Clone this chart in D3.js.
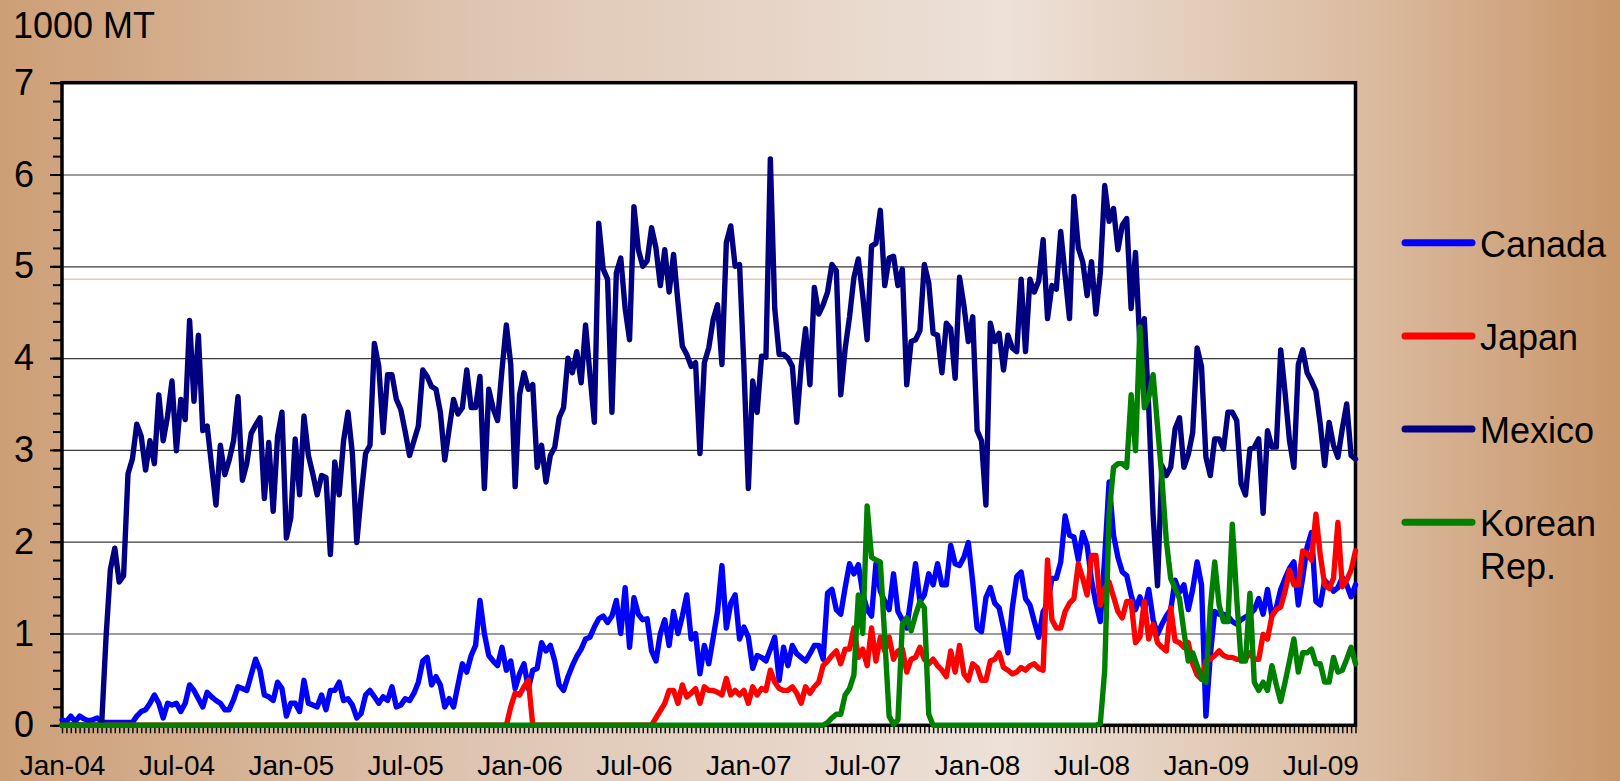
<!DOCTYPE html>
<html>
<head>
<meta charset="utf-8">
<script src="https://cdn.jsdelivr.net/npm/d3@7/dist/d3.min.js"></script>
<style>
  body { margin: 0; overflow: hidden; }
  text { font-family: "Liberation Sans", Arial, sans-serif; fill: #000; }
</style>
</head>
<body>
<svg width="1620" height="781"></svg>
<script>
// weekly imports, 1000 MT, first week of Jan-04 onwards (295 weeks)
var tickLabels = ["Jan-04","Jul-04","Jan-05","Jul-05","Jan-06","Jul-06","Jan-07","Jul-07","Jan-08","Jul-08","Jan-09","Jul-09"];
var tickWeeks = [0, 26, 52, 78, 104, 130, 156, 182, 208, 234, 260, 286];
var seriesNames = ["Canada", "Japan", "Mexico", "Korean Rep."];
var seriesColors = ["#0000ff", "#ff0000", "#000080", "#008000"];
var stray = 4.86; // thin tan line that crosses the plot in the original

var canada = [
  0.06,0.04,0.10,0.04,0.10,0.07,0.05,0.06,0.08,0.04,
  0.03,0.03,0.03,0.03,0.03,0.03,0.03,0.10,0.15,0.17,
  0.24,0.33,0.24,0.08,0.24,0.22,0.24,0.15,0.24,0.44,
  0.38,0.29,0.20,0.36,0.31,0.27,0.24,0.17,0.17,0.28,
  0.42,0.40,0.38,0.55,0.72,0.60,0.33,0.31,0.27,0.47,
  0.40,0.10,0.24,0.24,0.15,0.49,0.24,0.22,0.20,0.33,
  0.17,0.38,0.38,0.47,0.27,0.29,0.22,0.08,0.13,0.33,
  0.38,0.31,0.24,0.31,0.27,0.42,0.20,0.22,0.29,0.27,
  0.35,0.47,0.70,0.74,0.44,0.53,0.44,0.20,0.29,0.20,
  0.44,0.67,0.58,0.76,0.87,1.36,1.00,0.76,0.70,0.65,
  0.85,0.60,0.70,0.40,0.56,0.67,0.40,0.60,0.62,0.90,
  0.81,0.87,0.70,0.44,0.38,0.53,0.65,0.75,0.83,0.94,
  0.96,1.07,1.16,1.19,1.12,1.19,1.36,1.00,1.50,0.85,
  1.39,1.21,1.15,1.16,0.81,0.70,1.00,1.15,0.87,1.24,
  1.00,1.19,1.42,0.94,1.00,0.56,0.87,0.67,0.95,1.24,
  1.74,1.06,1.33,1.42,0.94,1.07,0.96,0.62,0.76,0.74,
  0.70,0.83,0.96,0.49,0.85,0.65,0.87,0.78,0.74,0.70,
  0.78,0.87,0.87,0.72,1.44,1.48,1.26,1.21,1.50,1.76,
  1.65,1.75,1.44,1.26,1.19,1.76,1.46,1.35,1.26,1.65,
  1.24,1.15,1.06,1.40,1.76,1.35,1.42,1.65,1.53,1.76,
  1.53,1.53,1.96,1.76,1.74,1.83,1.99,1.56,1.06,1.02,
  1.39,1.50,1.33,1.28,1.06,0.79,1.28,1.62,1.67,1.38,
  1.31,1.13,0.96,1.24,1.31,1.60,1.60,1.78,2.28,2.07,
  2.05,1.80,2.10,1.96,1.58,1.33,1.13,1.83,2.65,2.07,
  1.83,1.67,1.63,1.42,1.26,1.40,1.26,1.48,1.15,0.99,
  1.10,1.19,1.26,1.58,1.45,1.53,1.26,1.48,1.78,1.53,
  0.10,0.76,1.24,1.21,1.21,1.19,1.13,1.10,1.15,1.18,
  1.21,1.26,1.38,1.21,1.48,1.19,1.28,1.48,1.60,1.71,
  1.78,1.31,1.61,1.94,2.10,1.35,1.31,1.58,1.53,1.46,
  1.50,1.61,1.53,1.40,1.53
];

var japan = [
  0,0,0,0,0,0,0,0,0,0, 0,0,0,0,0,0,0,0,0,0,
  0,0,0,0,0,0,0,0,0,0, 0,0,0,0,0,0,0,0,0,0,
  0,0,0,0,0,0,0,0,0,0, 0,0,0,0,0,0,0,0,0,0,
  0,0,0,0,0,0,0,0,0,0, 0,0,0,0,0,0,0,0,0,0,
  0,0,0,0,0,0,0,0,0,0, 0,0,0,0,0,0,0,0,0,0,
  0,0,0.20,0.35,0.33,0.42,0.49,0,0,0,
  0,0,0,0,0,0,0,0,0,0, 0,0,0,0,0,0,0,0,0,0,
  0,0,0,0,0,0.08,0.16,0.24,0.38,0.38,
  0.24,0.44,0.31,0.35,0.40,0.24,0.42,0.38,0.38,0.36,
  0.33,0.51,0.33,0.38,0.33,0.38,0.24,0.42,0.33,0.40,
  0.38,0.60,0.47,0.40,0.38,0.38,0.42,0.35,0.24,0.42,
  0.35,0.42,0.47,0.65,0.70,0.76,0.81,0.67,0.83,0.83,
  1.06,0.74,0.83,0.65,1.06,0.70,0.96,0.81,0.96,0.72,
  0.81,0.83,0.58,0.72,0.74,0.85,0.72,0.67,0.72,0.65,
  0.60,0.53,0.81,0.58,0.87,0.56,0.49,0.67,0.63,0.49,
  0.49,0.70,0.72,0.79,0.63,0.60,0.56,0.58,0.63,0.60,
  0.65,0.67,0.62,0.60,1.80,1.15,1.06,1.06,1.24,1.33,
  1.38,1.76,1.60,1.42,1.85,1.85,1.31,1.49,1.56,1.40,
  1.24,1.17,1.35,1.35,0.90,0.96,1.35,0.94,1.10,0.90,
  0.85,0.81,1.28,0.92,0.90,0.85,0.90,0.67,0.55,0.50,
  0.70,0.72,0.76,0.81,0.76,0.74,0.74,0.72,0.72,0.72,
  0.79,0.72,0.72,0.99,0.94,1.19,1.26,1.29,1.46,1.69,
  1.53,1.53,1.90,1.87,1.80,2.30,1.85,1.53,1.49,1.60,
  2.21,1.51,1.58,1.69,1.90
];

var mexico = [
  0,0,0,0,0,0,0,0,0,0,
  0.95,1.70,1.93,1.56,1.63,2.74,2.90,3.28,3.15,2.78,
  3.10,2.85,3.60,3.10,3.37,3.75,2.99,3.55,3.33,4.41,
  3.53,4.25,3.21,3.26,2.83,2.40,3.05,2.73,2.89,3.10,
  3.58,2.67,2.85,3.18,3.27,3.35,2.47,3.08,2.33,3.15,
  3.41,2.04,2.26,3.12,2.51,3.37,2.94,2.74,2.51,2.72,
  2.70,1.86,2.87,2.51,3.10,3.41,2.96,1.99,2.51,2.96,
  3.05,4.16,3.91,3.19,3.82,3.82,3.55,3.44,3.20,2.94,
  3.10,3.26,3.87,3.80,3.69,3.66,3.41,2.89,3.23,3.55,
  3.39,3.46,3.87,3.46,3.46,3.80,2.58,3.66,3.45,3.32,
  3.87,4.36,3.93,2.60,3.60,3.84,3.66,3.71,2.81,3.05,
  2.65,2.94,3.03,3.35,3.46,4.00,3.84,4.07,3.73,4.36,
  3.82,3.30,5.47,4.97,4.86,3.41,4.93,5.09,4.54,4.20,
  5.65,5.18,5.00,5.06,5.42,5.20,4.79,5.18,4.72,5.13,
  4.61,4.13,4.04,3.91,3.95,2.96,3.95,4.11,4.42,4.58,
  3.93,5.26,5.44,5.00,5.02,3.90,2.58,3.75,3.41,4.02,
  4.01,6.17,4.54,4.04,4.04,4.00,3.91,3.30,3.91,4.32,
  3.71,4.77,4.48,4.58,4.72,5.02,4.95,3.60,4.10,4.45,
  4.88,5.08,4.68,4.20,5.22,5.25,5.61,4.79,5.09,5.11,
  4.79,4.97,3.71,4.18,4.20,4.30,5.02,4.82,4.27,4.25,
  3.84,4.38,4.32,3.78,4.88,4.57,4.18,4.45,3.21,3.10,
  2.40,4.38,4.18,4.27,3.87,4.25,4.11,4.07,4.86,4.07,
  4.86,4.72,4.84,5.29,4.43,4.79,4.75,5.38,4.90,4.43,
  5.76,5.20,5.05,4.68,5.05,4.48,4.93,5.88,5.49,5.63,
  5.18,5.45,5.52,4.54,5.15,4.14,4.43,3.46,2.29,1.52,
  2.83,2.72,2.81,3.23,3.35,2.81,2.95,3.19,4.11,3.91,
  2.92,2.72,3.12,3.12,3.01,3.41,3.41,3.32,2.63,2.51,
  3.01,3.03,3.12,2.31,3.21,3.03,3.03,4.09,3.62,3.10,
  2.81,3.93,4.09,3.84,3.75,3.64,3.28,2.83,3.30,3.05,
  2.92,3.23,3.50,2.94,2.90
];

var korea = [
  0,0,0,0,0,0,0,0,0,0, 0,0,0,0,0,0,0,0,0,0,
  0,0,0,0,0,0,0,0,0,0, 0,0,0,0,0,0,0,0,0,0,
  0,0,0,0,0,0,0,0,0,0, 0,0,0,0,0,0,0,0,0,0,
  0,0,0,0,0,0,0,0,0,0, 0,0,0,0,0,0,0,0,0,0,
  0,0,0,0,0,0,0,0,0,0, 0,0,0,0,0,0,0,0,0,0,
  0,0,0,0,0,0,0,0,0,0, 0,0,0,0,0,0,0,0,0,0,
  0,0,0,0,0,0,0,0,0,0, 0,0,0,0,0,0,0,0,0,0,
  0,0,0,0,0,0,0,0,0,0, 0,0,0,0,0,0,0,0,0,0,
  0,0,0,0,0,0,0,0,0,0,
  0,0,0,0,0.03,0.08,0.12,0.12,0.33,0.40,
  0.55,1.42,1.00,2.39,1.83,1.80,1.78,0.95,0.10,0.01,
  0.06,1.10,1.17,1.03,1.20,1.35,1.28,0.12,0,0,
  0,0,0,0,0,0,0,0,0,0, 0,0,0,0,0,0,0,0,0,0,
  0,0,0,0,0,0,0,0,0,0, 0,0,0,0,0,0,
  0.02,0.60,2.30,2.81,
  2.85,2.85,2.81,3.60,2.99,4.34,3.46,3.57,3.82,3.26,
  2.69,2.01,1.60,1.49,1.38,1.02,0.70,0.79,0.65,0.51,
  0.47,1.28,1.78,1.31,1.13,1.13,2.19,1.38,0.70,0.70,
  1.44,0.47,0.38,0.47,0.38,0.65,0.44,0.26,0.47,0.70,
  0.94,0.58,0.79,0.79,0.83,0.67,0.67,0.47,0.47,0.74,
  0.58,0.60,0.72,0.85,0.67
];

var series = [canada, japan, mexico, korea];

var svg = d3.select("svg"),
    width = +svg.attr("width"),
    height = +svg.attr("height");

var plotL = 62, plotR = 1355.5, plotT = 82.7, plotB = 725.3;

// background wash
var grad = svg.append("defs").append("linearGradient")
    .attr("id", "bg").attr("x1", 0).attr("x2", 1).attr("y1", 0).attr("y2", 0);
grad.append("stop").attr("offset", "0%").attr("stop-color", "#cd9f76");
grad.append("stop").attr("offset", "30%").attr("stop-color", "#dfc6b3");
grad.append("stop").attr("offset", "62%").attr("stop-color", "#ede1d8");
grad.append("stop").attr("offset", "84%").attr("stop-color", "#dcbca1");
grad.append("stop").attr("offset", "100%").attr("stop-color", "#c8966a");
svg.append("rect").attr("width", width).attr("height", height).attr("fill", "url(#bg)");

var x = d3.scaleLinear().domain([0, canada.length - 1]).range([plotL, plotR]);
var y = d3.scaleLinear().domain([0, 7]).range([plotB, plotT]);

svg.append("rect")
    .attr("x", plotL).attr("y", plotT)
    .attr("width", plotR - plotL).attr("height", plotB - plotT)
    .attr("fill", "#fff");

// gridlines
var grid = svg.append("g")
    .attr("transform", "translate(" + plotL + ",0)")
    .call(d3.axisLeft(y).tickValues([1, 2, 3, 4, 5, 6]).tickSize(-(plotR - plotL)).tickFormat(""));
grid.select(".domain").remove();
grid.selectAll("line").attr("stroke", "#3a3a3a").attr("stroke-width", 1.2);

svg.append("line")
    .attr("x1", plotL).attr("x2", plotR)
    .attr("y1", y(stray)).attr("y2", y(stray))
    .attr("stroke", "#e2ae88").attr("stroke-width", 1);

// y minor ticks
var yMinor = svg.append("g")
    .attr("transform", "translate(" + plotL + ",0)")
    .call(d3.axisLeft(y).tickValues(d3.range(0, 7.01, 0.2)).tickSize(9).tickFormat(""));
yMinor.select(".domain").remove();
yMinor.selectAll("line").attr("stroke", "#000").attr("stroke-width", 2);

// y major ticks + labels
var yAxis = svg.append("g")
    .attr("transform", "translate(" + plotL + ",0)")
    .call(d3.axisLeft(y).tickValues(d3.range(0, 8)).tickSize(12).tickPadding(16).tickFormat(d3.format("d")));
yAxis.select(".domain").remove();
yAxis.selectAll("line").attr("stroke", "#000").attr("stroke-width", 2);
yAxis.selectAll("text").attr("font-size", 36).attr("font-family", "Liberation Sans, Arial");

// x weekly ticks
var xTicks = svg.append("g")
    .attr("transform", "translate(0," + plotB + ")")
    .call(d3.axisBottom(x).tickValues(d3.range(0, canada.length)).tickSize(8).tickFormat(""));
xTicks.select(".domain").remove();
xTicks.selectAll("line").attr("stroke", "#000").attr("stroke-width", 1.4);

// x labels
var xAxis = svg.append("g")
    .attr("transform", "translate(0," + plotB + ")")
    .call(d3.axisBottom(x).tickValues(tickWeeks).tickSize(0).tickPadding(30)
      .tickFormat(function(d, i) { return tickLabels[i]; }));
xAxis.select(".domain").remove();
xAxis.selectAll("text").attr("font-size", 28).attr("font-family", "Liberation Sans, Arial");

// plot frame
svg.append("rect")
    .attr("x", plotL).attr("y", plotT)
    .attr("width", plotR - plotL).attr("height", plotB - plotT)
    .attr("fill", "none").attr("stroke", "#000").attr("stroke-width", 3.5);

var line = d3.line()
    .x(function(d, i) { return x(i); })
    .y(function(d) { return y(d); });

svg.append("g").selectAll("path")
    .data(series)
    .enter().append("path")
    .attr("d", line)
    .attr("fill", "none")
    .attr("stroke", function(d, i) { return seriesColors[i]; })
    .attr("stroke-width", 5.4)
    .attr("stroke-linejoin", "round")
    .attr("stroke-linecap", "round");

// y title
svg.append("text")
    .attr("x", 13).attr("y", 38)
    .attr("font-size", 36)
    .text("1000 MT");

// legend
var legend = svg.append("g").selectAll("g")
    .data(seriesNames)
    .enter().append("g")
    .attr("transform", function(d, i) { return "translate(1405," + (242.7 + i * 93.2) + ")"; });

legend.append("line")
    .attr("x1", 0).attr("x2", 67)
    .attr("stroke", function(d, i) { return seriesColors[i]; })
    .attr("stroke-width", 7)
    .attr("stroke-linecap", "round");

legend.append("text")
    .attr("x", 75).attr("y", 14)
    .attr("font-size", 36)
    .each(function(d) {
      var parts = d === "Korean Rep." ? ["Korean", "Rep."] : [d];
      var t = d3.select(this);
      parts.forEach(function(p, k) {
        t.append("tspan").attr("x", 75).attr("dy", k === 0 ? 0 : 43).text(p);
      });
    });
</script>
</body>
</html>
